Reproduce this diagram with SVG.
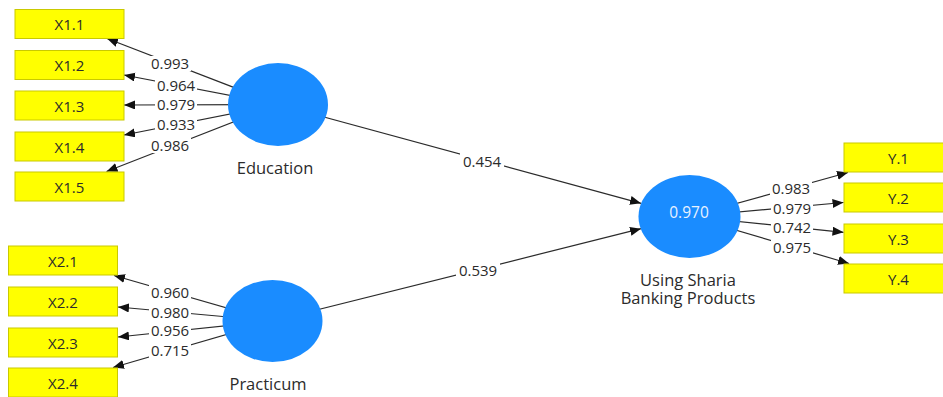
<svg xmlns="http://www.w3.org/2000/svg" width="943" height="397" viewBox="0 0 943 397">
  <style>
    .ind rect { fill: #ffff00; stroke: #c9c900; stroke-width: 1; }
    .ind text { font-family: "Open Sans", "Noto Sans", "DejaVu Sans", sans-serif; font-size: 15px; fill: #2b2b2b; text-anchor: middle; dominant-baseline: central; }
    .lv ellipse { fill: #1a8cff; }
    .lv text { font-family: "Open Sans", "Noto Sans", "DejaVu Sans", sans-serif; font-size: 16.5px; fill: #2b2b2b; text-anchor: middle; dominant-baseline: central; }
    .lv text.r2 { fill: #e8f2ff; font-size: 15.5px; }
    .edges line { stroke: #2b2b2b; stroke-width: 1.2; marker-end: url(#arr); }
    .lbl rect { fill: #ffffff; }
    .lbl text { font-family: "Open Sans", "Noto Sans", "DejaVu Sans", sans-serif; font-size: 15px; fill: #2b2b2b; text-anchor: middle; dominant-baseline: central; }
  </style>
  <defs>
    <marker id="arr" markerUnits="userSpaceOnUse" markerWidth="12" markerHeight="10" refX="11" refY="4.5" orient="auto">
      <path d="M0,0 L11,4.5 L0,9 z" fill="#111111"/>
    </marker>
  </defs>
  <rect width="943" height="397" fill="#ffffff"/>

  <!-- connectors: drawn from construct centres, constructs cover the start -->
  <g id="connectors" class="edges">
    <line x1="278" y1="104.5" x2="107" y2="38.5"/>
    <line x1="278" y1="104.5" x2="124" y2="75"/>
    <line x1="278" y1="104.5" x2="124" y2="105"/>
    <line x1="278" y1="104.5" x2="124" y2="135"/>
    <line x1="278" y1="104.5" x2="106.5" y2="171.5"/>

    <line x1="272.5" y1="321" x2="114" y2="275.5"/>
    <line x1="272.5" y1="321" x2="118" y2="307"/>
    <line x1="272.5" y1="321" x2="118" y2="337"/>
    <line x1="272.5" y1="321" x2="113" y2="367.5"/>

    <line x1="689.5" y1="216.5" x2="848" y2="172.5"/>
    <line x1="689.5" y1="216.5" x2="843.5" y2="202.5"/>
    <line x1="689.5" y1="216.5" x2="843.5" y2="232.3"/>
    <line x1="689.5" y1="216.5" x2="849" y2="263.5"/>

    <line x1="278" y1="104.5" x2="641" y2="203.3"/>
    <line x1="272.5" y1="321" x2="641" y2="228.7"/>
  </g>

  <!-- path coefficients and outer loadings -->
  <g id="labels" class="lbl">
    <rect x="149" y="56" width="42" height="15"/><text x="170" y="63">0.993</text>
    <rect x="155" y="78" width="42" height="15"/><text x="176" y="85">0.964</text>
    <rect x="155" y="97" width="42" height="15"/><text x="176" y="104">0.979</text>
    <rect x="155" y="117" width="42" height="15"/><text x="176" y="124">0.933</text>
    <rect x="149" y="138" width="42" height="15"/><text x="170" y="145">0.986</text>

    <rect x="149" y="285" width="42" height="15"/><text x="170" y="292">0.960</text>
    <rect x="149" y="305" width="42" height="15"/><text x="170" y="312">0.980</text>
    <rect x="149" y="323" width="42" height="15"/><text x="170" y="330">0.956</text>
    <rect x="149" y="343" width="42" height="15"/><text x="170" y="350">0.715</text>

    <rect x="770" y="181" width="42" height="15"/><text x="791" y="188">0.983</text>
    <rect x="771" y="201" width="42" height="15"/><text x="792" y="208">0.979</text>
    <rect x="771" y="220" width="42" height="15"/><text x="792" y="227">0.742</text>
    <rect x="771" y="240" width="42" height="15"/><text x="792" y="247">0.975</text>

    <rect x="460" y="153" width="44" height="16"/><text x="482" y="161">0.454</text>
    <rect x="456" y="262" width="44" height="16"/><text x="478" y="270">0.539</text>
  </g>

  <!-- indicators -->
  <g id="X1.1" class="ind"><rect x="15" y="9.5" width="109" height="29"/><text x="69.5" y="24">X1.1</text></g>
  <g id="X1.2" class="ind"><rect x="15" y="50.5" width="109" height="29"/><text x="69.5" y="65">X1.2</text></g>
  <g id="X1.3" class="ind"><rect x="15" y="91" width="109" height="29"/><text x="69.5" y="105.5">X1.3</text></g>
  <g id="X1.4" class="ind"><rect x="15" y="132" width="109" height="29"/><text x="69.5" y="146.5">X1.4</text></g>
  <g id="X1.5" class="ind"><rect x="15" y="172" width="109" height="29"/><text x="69.5" y="186.5">X1.5</text></g>

  <g id="X2.1" class="ind"><rect x="8.5" y="246" width="109" height="29"/><text x="63" y="260.5">X2.1</text></g>
  <g id="X2.2" class="ind"><rect x="8.5" y="287" width="109" height="29"/><text x="63" y="301.5">X2.2</text></g>
  <g id="X2.3" class="ind"><rect x="8.5" y="328" width="109" height="29"/><text x="63" y="342.5">X2.3</text></g>
  <g id="X2.4" class="ind"><rect x="8.5" y="368" width="109" height="29"/><text x="63" y="382.5">X2.4</text></g>

  <g id="Y.1" class="ind"><rect x="844" y="143" width="109" height="29"/><text x="898.5" y="157.5">Y.1</text></g>
  <g id="Y.2" class="ind"><rect x="844" y="183" width="109" height="29"/><text x="898.5" y="197.5">Y.2</text></g>
  <g id="Y.3" class="ind"><rect x="844" y="224" width="109" height="29"/><text x="898.5" y="238.5">Y.3</text></g>
  <g id="Y.4" class="ind"><rect x="844" y="264" width="109" height="29"/><text x="898.5" y="278.5">Y.4</text></g>

  <!-- constructs -->
  <g id="Education" class="lv">
    <ellipse cx="278" cy="104.5" rx="50" ry="41.5"/>
    <text x="275" y="167">Education</text>
  </g>
  <g id="Practicum" class="lv">
    <ellipse cx="272.5" cy="321" rx="50" ry="41"/>
    <text x="268" y="383">Practicum</text>
  </g>
  <g id="UsingSharia" class="lv">
    <ellipse cx="689.5" cy="216.5" rx="51" ry="41.5"/>
    <text class="r2" x="689" y="212">0.970</text>
    <text x="688" y="279">Using Sharia</text>
    <text x="688" y="297">Banking Products</text>
  </g>
</svg>
